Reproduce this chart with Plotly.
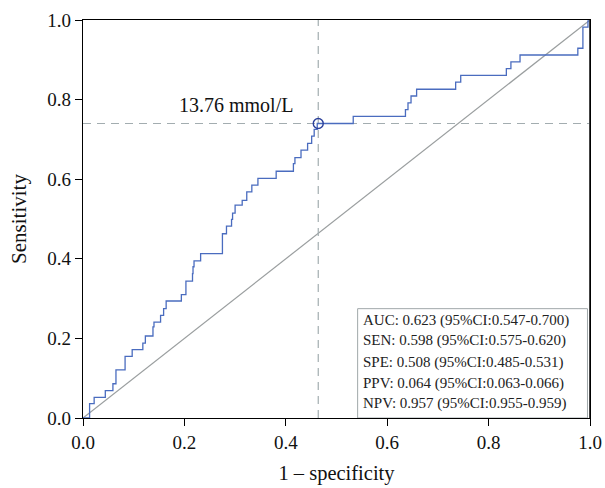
import plotly.graph_objects as go

# ROC step vertices (x where the vertical step occurs, sensitivity after step)
fpr = [0.0, 0.013, 0.022, 0.044, 0.059, 0.065, 0.083, 0.097, 0.118, 0.123, 0.138, 0.140,
       0.153, 0.159, 0.164, 0.194, 0.203, 0.216, 0.217, 0.219, 0.232, 0.275, 0.283, 0.293,
       0.295, 0.300, 0.314, 0.323, 0.333, 0.345, 0.381, 0.415, 0.418, 0.430, 0.443, 0.451,
       0.456, 0.462, 0.533, 0.636, 0.641, 0.647, 0.658, 0.735, 0.745, 0.835, 0.844, 0.862,
       0.976, 0.986, 0.996, 1.0]
tpr = [0.0, 0.036, 0.052, 0.069, 0.086, 0.121, 0.155, 0.172, 0.188, 0.206, 0.229, 0.241,
       0.258, 0.275, 0.294, 0.310, 0.344, 0.363, 0.380, 0.395, 0.413, 0.463, 0.482, 0.499,
       0.515, 0.535, 0.547, 0.568, 0.585, 0.602, 0.620, 0.639, 0.654, 0.673, 0.690, 0.708,
       0.725, 0.740, 0.758, 0.775, 0.792, 0.809, 0.826, 0.844, 0.861, 0.878, 0.895, 0.912,
       0.929, 0.982, 0.998, 1.0]

cut_x = 0.464
cut_y = 0.740
cut_label = "13.76 mmol/L"

stats_lines = [
    "AUC: 0.623 (95%CI:0.547-0.700)",
    "SEN: 0.598 (95%CI:0.575-0.620)",
    "SPE: 0.508 (95%CI:0.485-0.531)",
    "PPV: 0.064 (95%CI:0.063-0.066)",
    "NPV: 0.957 (95%CI:0.955-0.959)",
]

tick_vals = [0.0, 0.2, 0.4, 0.6, 0.8, 1.0]
tick_text = ["0.0", "0.2", "0.4", "0.6", "0.8", "1.0"]

FONT = "Liberation Serif, Times New Roman, serif"

fig = go.Figure()

# diagonal reference
fig.add_trace(go.Scatter(x=[0, 1], y=[0, 1], mode="lines",
                         line=dict(color="#9a9e9f", width=1.2), hoverinfo="skip",
                         showlegend=False))
# cutoff dashed lines
fig.add_trace(go.Scatter(x=[cut_x, cut_x], y=[0, 1], mode="lines",
                         line=dict(color="#a3adb0", width=1.2, dash="8px,6px"),
                         showlegend=False))
fig.add_trace(go.Scatter(x=[0, 1], y=[cut_y, cut_y], mode="lines",
                         line=dict(color="#a3adb0", width=1.2, dash="8px,6px"),
                         showlegend=False))
# ROC curve
fig.add_trace(go.Scatter(x=fpr, y=tpr, mode="lines", line_shape="hv",
                         line=dict(color="#4a6cbf", width=1.3), showlegend=False))
# cutoff point
fig.add_trace(go.Scatter(x=[cut_x], y=[cut_y], mode="markers",
                         marker=dict(symbol="circle-open", size=10,
                                     color="#2a3f9a", line=dict(width=1.4)),
                         showlegend=False))

fig.add_annotation(x=0.301, y=0.786, text=cut_label, showarrow=False,
                   font=dict(family=FONT, size=20, color="#111"))

# stats box
fig.add_shape(type="rect", x0=0.5417, x1=0.995, y0=0.0, y1=0.2747,
              line=dict(color="#a0a8aa", width=1), fillcolor="white", layer="above")
line_y = [0.2453, 0.1942, 0.1404, 0.0875, 0.0357]
for txt, yy in zip(stats_lines, line_y):
    fig.add_annotation(x=0.548, y=yy, text=txt, showarrow=False, xanchor="left",
                       yanchor="middle", font=dict(family=FONT, size=15, color="#222"))

# darker right frame edge as in the reference
fig.add_shape(type="line", x0=1, x1=1, y0=0, y1=1, xref="x", yref="y",
              line=dict(color="#444", width=2), layer="above")

axis_common = dict(range=[0, 1], tickvals=tick_vals, ticktext=tick_text,
                   showgrid=False, zeroline=False, showline=True, linecolor="black",
                   linewidth=1.2, mirror=True, ticks="outside", ticklen=7,
                   tickcolor="black", automargin=False,
                   tickfont=dict(family=FONT, size=19, color="#111"))

fig.update_layout(
    width=605, height=488,
    margin=dict(l=83, r=15, t=20, b=70),
    paper_bgcolor="white", plot_bgcolor="white",
    xaxis=dict(**axis_common, title=dict(text="1 – specificity",
                                         font=dict(family=FONT, size=20.5, color="#111"),
                                         standoff=13)),
    yaxis=dict(**axis_common, title=dict(text="Sensitivity",
                                         font=dict(family=FONT, size=21, color="#111"),
                                         standoff=14)),
)

fig.write_html("out.html", config={"displayModeBar": False},
               post_script="document.body.style.margin='0';document.body.style.padding='0';")
